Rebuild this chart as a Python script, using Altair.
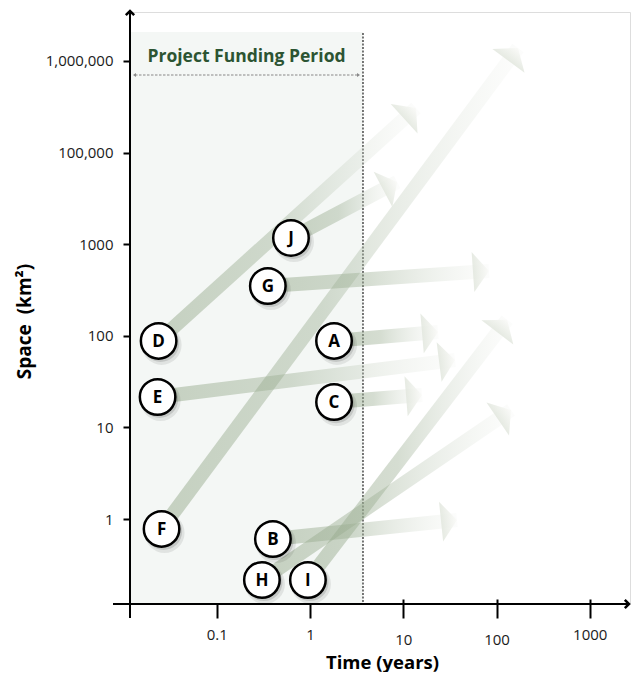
import math
import altair as alt
import pandas as pd

# ---------------- data ----------------
letters = ["A", "B", "C", "D", "E", "F", "G", "H", "I", "J"]
start_time = [1.81, 0.40, 1.81, 0.0238, 0.0232, 0.0256, 0.353, 0.305, 0.95, 0.625]
start_space = [88, 0.605, 18.9, 88, 21.5, 0.78, 350, 0.216, 0.216, 1170]
end_time = [23.6, 37.7, 15.9, 13.7, 35.9, 170, 83, 143, 130, 8.6]
end_space = [110, 0.975, 22.6, 30700, 54.4, 138700, 510, 15.5, 150, 4780]

x_tick_values = [0.1, 1, 10, 100, 1000]
x_tick_labels = ["0.1", "1", "10", "100", "1000"]
y_tick_values = [1, 10, 100, 1000, 10000, 100000]
y_tick_labels = ["1", "10", "100", "1000", "100,000", "1,000,000"]

funding_end = 3.7
period_label = "Project Funding Period"

# ---------------- layout ----------------
W, H = 500, 592
KX = 93.25  # px per decade, x
XMIN = 0.01174
XMAX = 10 ** (math.log10(XMIN) + W / KX)
YMIN, YMAX = 0.1181, 342700
ky = H / (math.log10(YMAX) - math.log10(YMIN))

angles = []
for sx, sy, ex, ey in zip(start_time, start_space, end_time, end_space):
    dx = (math.log10(ex) - math.log10(sx)) * KX
    dy = (math.log10(ey) - math.log10(sy)) * ky
    angles.append((-math.degrees(math.atan2(dy, dx))) % 360)

df = pd.DataFrame({
    "letter": letters, "x": start_time, "y": start_space,
    "ex": end_time, "ey": end_space, "angle": angles,
})
period = pd.DataFrame({
    "start": [XMIN], "end": [funding_end],
    "mid": [math.sqrt(XMIN * funding_end)], "label": [period_label],
})

FONT = "Open Sans"

def map_expr(vals, labels):
    parts = [f"datum.value == {v} ? '{l}'" for v, l in zip(vals, labels)]
    return " : ".join(parts) + " : ''"

xscale = alt.Scale(type="log", domain=[XMIN, XMAX], nice=False)
yscale = alt.Scale(type="log", domain=[YMIN, YMAX], nice=False)

xaxis = alt.Axis(
    values=x_tick_values, labelExpr=map_expr(x_tick_values, x_tick_labels),
    domain=False, grid=False, offset=-5, tickSize=19, tickWidth=2,
    tickColor="black", labelFont=FONT, labelFontSize=15, labelColor="#1a1a1a",
    labelPadding={"condition": {"test": "datum.value == 10 || datum.value == 100", "value": 14}, "value": 9},
    labelFlush=False, labelOverlap=False,
    title="Time (years)", titleFont=FONT, titleFontSize=18.5, titleFontWeight="bold",
    titleColor="black", titleBaseline="middle", titleAnchor="start", titleAlign="center",
    titleX=252, titleY=63,
)
yaxis = alt.Axis(
    values=y_tick_values, labelExpr=map_expr(y_tick_values, y_tick_labels),
    domain=False, grid=False, offset=-4, tickSize=11, tickWidth=2,
    tickColor="black", labelFont=FONT, labelFontSize=15, labelColor="#1a1a1a",
    labelPadding=10, labelFlush=False, labelOverlap=False,
    title="Space\u00a0\u00a0(km²)", titleFont=FONT, titleFontSize=19, titleFontWeight="bold",
    titleColor="black", titleAngle=270, titleBaseline="middle", titleAlign="center",
    titleAnchor="start", titleX=-110, titleY=309,
)

def X(field):
    return alt.X(field, type="quantitative", scale=xscale, axis=xaxis)

def Y(field):
    return alt.Y(field, type="quantitative", scale=yscale, axis=yaxis)

# shaded funding period
shade = alt.Chart(period).mark_rect(color="#f4f7f5").encode(
    x=X("start"), x2="end", y=alt.value(20), y2=alt.value(H)
)
vline = alt.Chart(period).mark_rule(color="#555555", strokeWidth=1.6, strokeDash=[2, 1.5]).encode(
    x=X("end"), y=alt.value(21), y2=alt.value(H)
)
period_text = alt.Chart(period).mark_text(
    font=FONT, fontSize=17.5, fontWeight="bold", color="#2c5432", baseline="middle", align="center"
).encode(x=X("mid"), y=alt.value(45), text="label")
period_arrow = alt.Chart(period).mark_rule(
    color="#888888", strokeWidth=1.2, strokeDash=[2.5, 1.5], xOffset=5, x2Offset=-5
).encode(x=X("start"), x2="end", y=alt.value(63))
period_head_l = alt.Chart(period).mark_point(
    shape="M0,0L1,-0.7L1,0.7Z", filled=True, color="#888888", size=36, opacity=1, xOffset=3
).encode(x=X("start"), y=alt.value(63))
period_head_r = alt.Chart(period).mark_point(
    shape="M0,0L-1,-0.7L-1,0.7Z", filled=True, color="#888888", size=36, opacity=1, xOffset=-3
).encode(x=X("end"), y=alt.value(63))

shaft_grad = alt.Gradient(
    gradient="linear",
    stops=[
        alt.GradientStop(offset=0, color="rgba(150,170,140,0.5)"),
        alt.GradientStop(offset=0.45, color="rgba(155,174,146,0.42)"),
        alt.GradientStop(offset=1, color="rgba(240,242,238,0.2)"),
    ],
    x1=0, x2=1, y1=0, y2=0,
)
head_grad = alt.Gradient(
    gradient="linear",
    stops=[
        alt.GradientStop(offset=0, color="rgba(226,231,222,0.85)"),
        alt.GradientStop(offset=1, color="rgba(250,250,248,0.85)"),
    ],
    x1=0, x2=1, y1=0, y2=0,
)

shafts = alt.Chart(df).mark_rule(strokeWidth=14, strokeCap="butt", stroke=shaft_grad).encode(
    x=X("x"), y=Y("y"), x2="ex", y2="ey"
)
heads = alt.Chart(df).mark_point(
    shape="M0,0L-0.8,-1L-0.8,1Z", filled=True, fill=head_grad, strokeWidth=0, size=1600, opacity=1
).encode(x=X("ex"), y=Y("ey"), angle=alt.Angle("angle:Q", scale=None))

shadow1 = alt.Chart(df).mark_point(
    shape="circle", filled=True, color="black", opacity=0.08, size=1600, xOffset=3, yOffset=4
).encode(x=X("x"), y=Y("y"))
shadow2 = alt.Chart(df).mark_point(
    shape="circle", filled=True, color="black", opacity=0.12, size=1380, xOffset=2, yOffset=2.5
).encode(x=X("x"), y=Y("y"))
circles = alt.Chart(df).mark_point(
    shape="circle", filled=True, fill="white", stroke="black", strokeWidth=2.5, size=1260, opacity=1
).encode(x=X("x"), y=Y("y"))
labels = alt.Chart(df).mark_text(
    font=FONT, fontSize=17, fontWeight="bold", color="black", baseline="middle", align="center", dy=1
).encode(x=X("x"), y=Y("y"), text="letter")

# axis lines with arrow ends
y_line = alt.Chart(period).mark_rule(color="black", strokeWidth=2).encode(
    x=alt.value(0), y=alt.value(-1), y2=alt.value(H + 14)
)
x_line = alt.Chart(period).mark_rule(color="black", strokeWidth=2).encode(
    x=alt.value(-17), x2=alt.value(W - 1), y=alt.value(H)
)
y_arrow = alt.Chart(period).mark_point(
    shape="M-1,1L0,0L1,1", filled=False, color="black", strokeWidth=2.5, size=70, opacity=1
).encode(x=alt.value(0), y=alt.value(-1))
x_arrow = alt.Chart(period).mark_point(
    shape="M-1,-1L0,0L-1,1", filled=False, color="black", strokeWidth=2.5, size=70, opacity=1
).encode(x=alt.value(W - 1), y=alt.value(H))

chart = alt.layer(
    shade, vline, period_text, period_arrow, period_head_l, period_head_r,
    shafts, heads, shadow1, shadow2, circles, labels,
    y_line, x_line, y_arrow, x_arrow,
).properties(
    width=W, height=H,
    autosize=alt.AutoSizeParams(type="none"),
    padding={"left": 122, "top": 4, "right": 2, "bottom": 68},
).configure_view(stroke=None).configure(background="white")

chart.save("out.html", embed_options={"renderer": "svg", "actions": False})
